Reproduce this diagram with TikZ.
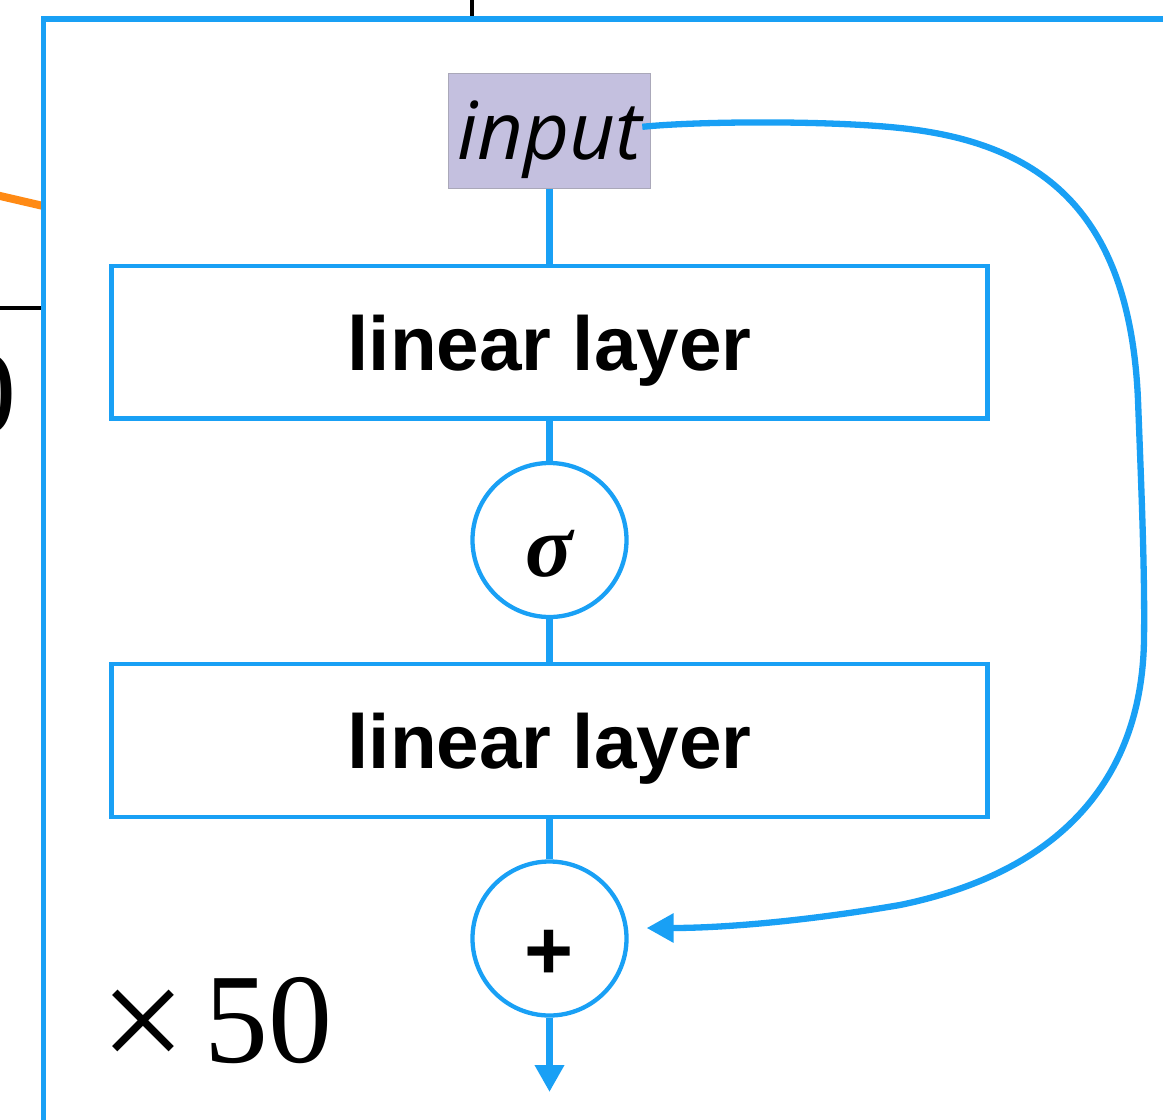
\documentclass[tikz,border=0pt]{standalone}
\usepackage{fontspec}
\setsansfont{Liberation Sans}
\newfontfamily\serifnum{Liberation Serif}
\newfontfamily\labelfont{Open Sans}
\usetikzlibrary{arrows.meta}
\definecolor{netblue}{RGB}{25,160,245}
\definecolor{inputfill}{RGB}{196,192,223}
\definecolor{inputedge}{RGB}{170,168,185}
\definecolor{linkorange}{RGB}{255,138,20}

\begin{document}
\begin{tikzpicture}[x=1pt,y=-1pt,
  layerbox/.style={draw=netblue, line width=4.3pt, minimum width=876pt,
    minimum height=152.5pt, inner sep=0pt,
    font={\sffamily\bfseries\fontsize{76.5}{76.5}\selectfont},
    text height=62pt, text depth=6pt},
  opnode/.style={circle, draw=netblue, line width=4.3pt, minimum size=154pt,
    inner sep=0pt},
  inputbox/.style={draw=inputedge, fill=inputfill, line width=1.2pt,
    minimum width=202.4pt, minimum height=115pt, inner sep=0pt,
    font={\labelfont\itshape\fontsize{80}{80}\selectfont},
    text height=62pt, text depth=4pt},
  flow/.style={draw=netblue, line width=6.8pt},
  tip/.style={-{Triangle[length=27pt,width=28pt]}},
]
\useasboundingbox (0,0) rectangle (1163,1120);
\clip (0,0) rectangle (1163,1120);

% surrounding context outside the block
\draw[black, line width=4.3pt] (472,-2) -- (472,17);
\draw[black, line width=4.3pt] (-2,308.3) -- (41,308.3);
\draw[linkorange, line width=8pt] (-2,195.5) -- (42,205.7);
\node[anchor=base west, inner sep=0pt,
  font={\serifnum\fontsize{120}{120}\selectfont}] (edgezero) at (-44,433) {0};

% block frame
\draw[netblue, line width=5.5pt] (43.5,1130) -- (43.5,18.8) -- (1175,18.8);

% residual block
\node[inputbox] (inp) at (549.5,130.8) {input};
\node[layerbox] (lin1) at (549.5,342.25) {linear layer};
\node[opnode, font={\serifnum\bfseries\itshape\fontsize{88}{88}\selectfont},
  text height=74pt, text depth=2pt] (act) at (549.5,540) {σ};
\node[layerbox] (lin2) at (549.5,740.5) {linear layer};
\node[opnode, font={\sffamily\bfseries\fontsize{84}{84}\selectfont},
  text height=84pt, text depth=2pt] (sum) at (549.5,938.5) {+};
\coordinate (out) at (549.5,1092);

\draw[flow] (inp.south) -- (lin1.north);
\draw[flow] (lin1.south) -- (act.north);
\draw[flow] (act.south) -- (lin2.north);
\draw[flow] (lin2.south) -- (sum.north);
\draw[flow, tip] (sum.south) -- (out);

% skip connection
\draw[flow, line width=6.3pt, tip] ([xshift=-9pt,yshift=4pt]inp.east)
  .. controls (700,121) and (830,120.5) .. (900,128)
  .. controls (1045,143) and (1130,215) .. (1138,400)
  .. controls (1141,480) and (1145,570) .. (1144,640)
  .. controls (1142,770) and (1070,870) .. (900,905)
  .. controls (800,922) and (720,928) .. ([xshift=18pt,yshift=10.5pt]sum.east);

% repetition count
\node[anchor=base west, inner sep=0pt, font={\serifnum\fontsize{128}{128}\selectfont}]
  (reps) at (100,1062) {\raisebox{-9pt}{\fontsize{152}{152}\selectfont ×}\hspace{19pt}50};
\end{tikzpicture}
\end{document}
